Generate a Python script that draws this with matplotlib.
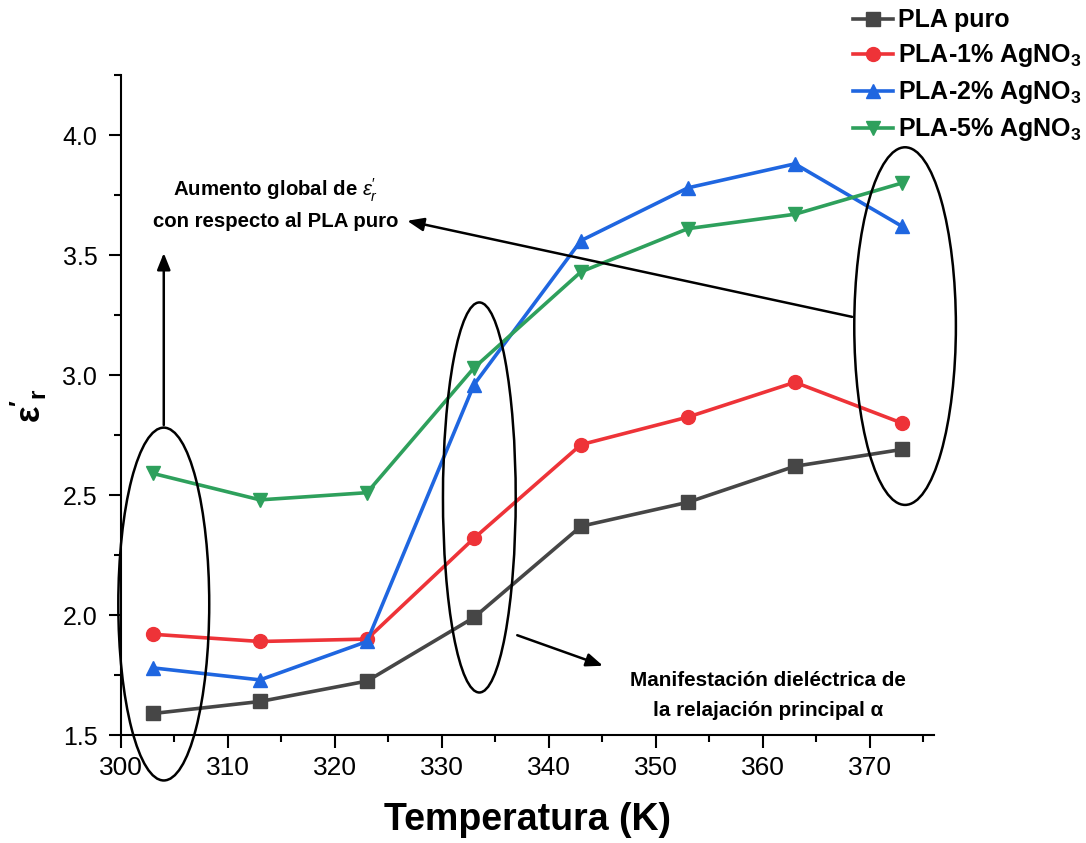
import matplotlib
matplotlib.use("Agg")
import matplotlib.pyplot as plt
from matplotlib.patches import Ellipse
from matplotlib.ticker import MultipleLocator, FormatStrFormatter

# Temperature (K) and real permittivity for each composition
temperatura = [303, 313, 323, 333, 343, 353, 363, 373]
pla_puro = [1.59, 1.64, 1.725, 1.99, 2.37, 2.47, 2.62, 2.69]
pla_1 = [1.92, 1.89, 1.90, 2.32, 2.71, 2.825, 2.97, 2.80]
pla_2 = [1.78, 1.73, 1.89, 2.96, 3.56, 3.78, 3.88, 3.62]
pla_5 = [2.59, 2.48, 2.51, 3.03, 3.43, 3.61, 3.67, 3.80]

series_labels = ["PLA puro", r"PLA-1% AgNO$_\mathbf{3}$",
                 r"PLA-2% AgNO$_\mathbf{3}$", r"PLA-5% AgNO$_\mathbf{3}$"]
colors = ["#464646", "#ee3338", "#1f66e0", "#2ea05c"]
markers = ["s", "o", "^", "v"]

plt.rcParams["font.family"] = ["Liberation Sans", "DejaVu Sans"]
plt.rcParams["mathtext.fontset"] = "custom"
plt.rcParams["mathtext.rm"] = "Liberation Sans"
plt.rcParams["mathtext.bf"] = "Liberation Sans:bold"
plt.rcParams["mathtext.it"] = "Liberation Sans:italic"

fig = plt.figure(figsize=(10.86, 8.43), dpi=100)
ax = fig.add_axes([0.1114, 0.128, 0.7486, 0.783])

for ys, lab, c, m in zip([pla_puro, pla_1, pla_2, pla_5], series_labels, colors, markers):
    ax.plot(temperatura, ys, color=c, marker=m, markersize=10, linewidth=2.6,
            label=lab, clip_on=False, zorder=3)

ax.set_xlim(300, 376)
ax.set_ylim(1.5, 4.25)
ax.xaxis.set_major_locator(MultipleLocator(10))
ax.xaxis.set_minor_locator(MultipleLocator(5))
ax.yaxis.set_major_locator(MultipleLocator(0.5))
ax.yaxis.set_minor_locator(MultipleLocator(0.25))
ax.yaxis.set_major_formatter(FormatStrFormatter("%.1f"))

for s in ["top", "right"]:
    ax.spines[s].set_visible(False)
for s in ["left", "bottom"]:
    ax.spines[s].set_linewidth(1.5)
ax.tick_params(which="major", direction="out", length=9, width=1.5)
ax.tick_params(axis="y", which="major", labelsize=18, pad=8)
ax.tick_params(axis="x", which="major", labelsize=19, pad=6)
ax.tick_params(which="minor", direction="out", length=5, width=1.5)

ax.set_xlabel("Temperatura (K)", fontsize=27, fontweight="bold", labelpad=16)
ax.set_ylabel(r"$\mathbf{\varepsilon'_r}$", fontsize=25, labelpad=10)

# Highlight ellipses
ell_kw = dict(fill=False, edgecolor="black", linewidth=1.8, clip_on=False, zorder=4)
ax.add_patch(Ellipse((304.0, 2.046), 8.5, 1.47, **ell_kw))
ax.add_patch(Ellipse((333.5, 2.49), 6.8, 1.625, **ell_kw))
ax.add_patch(Ellipse((373.3, 3.204), 9.5, 1.49, **ell_kw))

arrow_kw = dict(arrowstyle="-|>,head_length=1.0,head_width=0.4", color="black", lw=1.8)
ax.annotate("", xy=(304.0, 3.52), xytext=(304.0, 2.78), arrowprops=arrow_kw, annotation_clip=False)
ax.annotate("", xy=(326.5, 3.645), xytext=(368.6, 3.24), arrowprops=arrow_kw, annotation_clip=False)
ax.annotate("", xy=(345.3, 1.785), xytext=(336.8, 1.92), arrowprops=arrow_kw, annotation_clip=False)

ax.text(314.5, 3.77, r"Aumento global de $\varepsilon_r^{\prime}$", ha="center", va="center",
        fontsize=14.7, fontweight="bold")
ax.text(314.5, 3.64, "con respecto al PLA puro", ha="center", va="center",
        fontsize=14.7, fontweight="bold")
ax.text(360.5, 1.7275, "Manifestación dieléctrica de", ha="center", va="center",
        fontsize=14.9, fontweight="bold")
ax.text(360.5, 1.6025, "la relajación principal α", ha="center", va="center",
        fontsize=14.9, fontweight="bold")

leg = ax.legend(loc="upper left", bbox_to_anchor=(0.90, 1.101), frameon=False,
                prop={"weight": "bold", "size": 18}, handlelength=1.6,
                handletextpad=0.2, labelspacing=0.4, borderaxespad=0, borderpad=0)

fig.savefig("out.png", dpi=100)
